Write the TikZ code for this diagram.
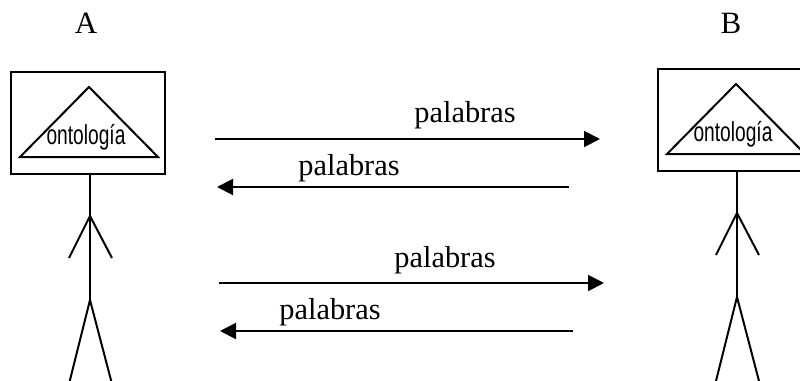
\documentclass[tikz,border=0pt]{standalone}
\usepackage{fontspec}
\setmainfont{Liberation Serif}
\newfontfamily\ontofont{Liberation Sans}
\usetikzlibrary{arrows.meta}
\begin{document}
\begin{tikzpicture}[x=0.5pt, y=-0.5pt, line width=1pt,
	word/.style={inner sep=0pt, font=\fontsize{15.2}{17}\selectfont},
	letter/.style={inner sep=0pt, font=\fontsize{15.5}{17}\selectfont},
	onto/.style={inner sep=0pt, xscale=0.7, font=\fontsize{13.7}{15}\ontofont},
	ontobox/.style={draw, minimum width=77pt, minimum height=51pt, inner sep=0pt},
	msg/.style={-{Triangle[length=8pt, width=8pt]}}]
	\useasboundingbox (0,0) rectangle (800,381);
	\clip (0,0) rectangle (800,381);
	\node[letter] (nameA) at (86,23) {A};
	\node[letter] (nameB) at (731,23) {B};
	\foreach \n/\x/\y in {A/0/0, B/647/-3} {
		\begin{scope}[shift={(\x,\y)}]
			\node[ontobox] (box\n) at (88,123) {};
			\coordinate (top\n) at (89,87);
			\coordinate (left\n) at (20,157);
			\coordinate (right\n) at (158,157);
			\draw (top\n) -- (left\n) -- (right\n) -- cycle;
			\node[onto] (onto\n) at (86,137) {ontología};
			\coordinate (neck\n) at (90,174);
			\coordinate (arms\n) at (90,216);
			\coordinate (hip\n) at (90,300);
			\draw (neck\n) -- (hip\n);
			\coordinate (handl\n) at (69,258);
			\coordinate (handr\n) at (112,258);
			\draw (handl\n) -- (arms\n) -- (handr\n);
			\coordinate (footl\n) at (69,384);
			\coordinate (footr\n) at (112,384);
			\draw (footl\n) -- (hip\n) -- (footr\n);
		\end{scope}
	}
	\foreach \i/\xa/\xb/\ya/\xt/\yt in {1/215/600/139/465/115, 2/569/217/187/349/168, 3/219/604/283/445/260, 4/573/220/331/330/312} {
		\coordinate (from\i) at (\xa,\ya);
		\coordinate (to\i) at (\xb,\ya);
		\draw[msg] (from\i) -- (to\i);
		\node[word] (word\i) at (\xt,\yt) {palabras};
	}
\end{tikzpicture}
\end{document}
